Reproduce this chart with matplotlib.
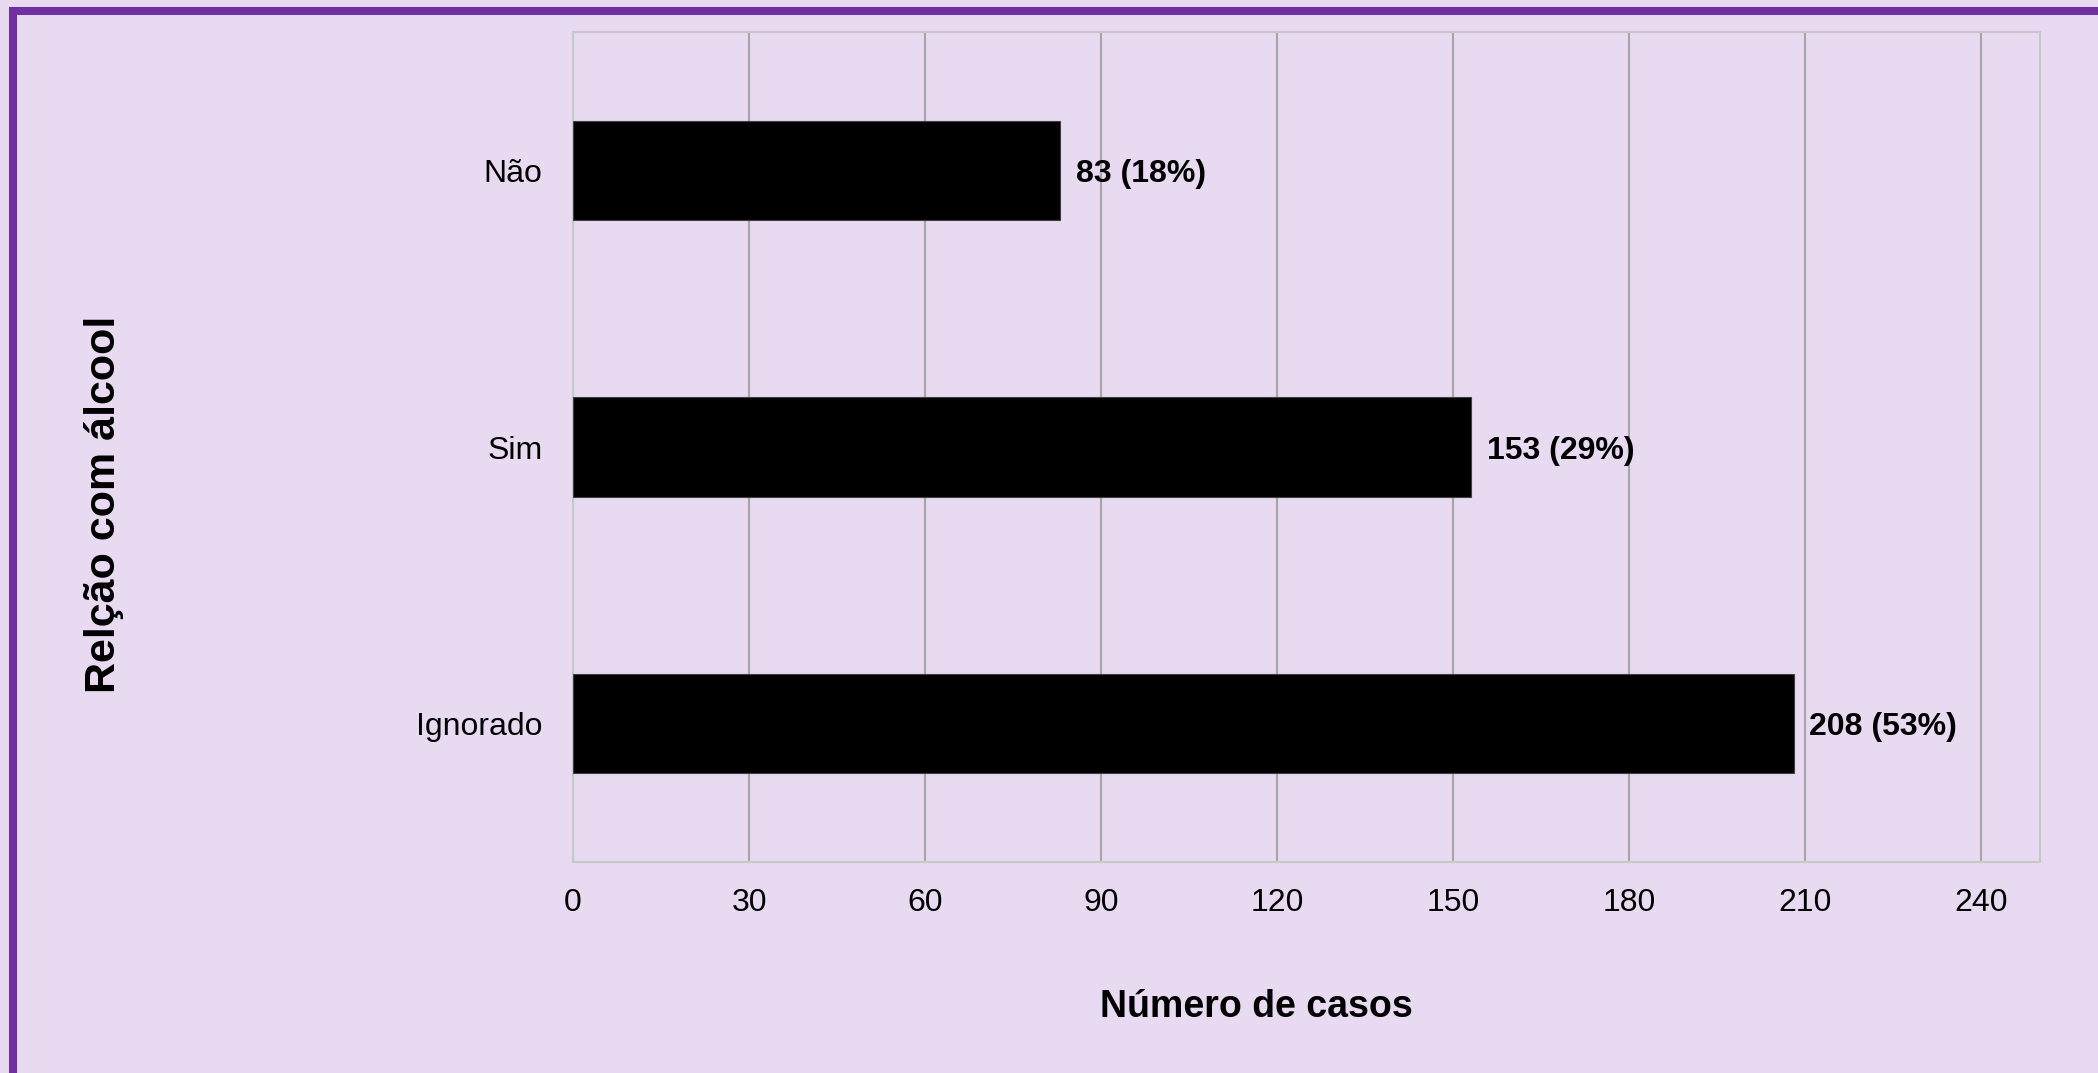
import matplotlib.pyplot as plt
from matplotlib.patches import Rectangle

categorias = ["Ignorado", "Sim", "Não"]
casos = [208, 153, 83]
percentuais = ["53%", "29%", "18%"]
ticks_x = [0, 30, 60, 90, 120, 150, 180, 210, 240]

plt.rcParams['font.family'] = ['Liberation Sans', 'DejaVu Sans']

W, H = 2098, 1073
fundo = '#E7DAF1'
fig = plt.figure(figsize=(W / 100, H / 100), dpi=100, facecolor=fundo)
ax = fig.add_axes([573 / W, 1 - 862 / H, (2040 - 573) / W, (862 - 32) / H])
ax.set_facecolor(fundo)

pos = range(len(categorias))
ax.barh(pos, casos, height=0.36, color='black', edgecolor='#404040', linewidth=0.8, zorder=3)

for y, v, p in zip(pos, casos, percentuais):
    ax.text(v + 2.7, y, f"{v} ({p})", va='center_baseline', ha='left',
            fontsize=23, fontweight='bold', zorder=4)

ax.set_xlim(0, 250)
ax.set_ylim(-0.5, 2.5)
ax.set_xticks(ticks_x)
ax.set_yticks(list(pos))
ax.set_yticklabels(categorias)
ax.tick_params(axis='both', length=0, labelsize=23)
ax.tick_params(axis='y', pad=22)
ax.tick_params(axis='x', pad=19)
ax.grid(axis='x', color='#A6A6A6', linewidth=1.5, zorder=1)
for s in ax.spines.values():
    s.set_color('#C8C8C8')
    s.set_linewidth(1.5)

fig.text(1256 / W, 1 - 1007 / H, "Número de casos",
         ha='center', va='center', fontsize=27, fontweight='bold')
fig.text(104 / W, 1 - 504 / H, "Relção com álcool", rotation=90,
         ha='center', va='center', fontsize=31, fontweight='bold')

# moldura roxa
fig.add_artist(Rectangle((13 / W, -0.002), 1.1, 1 - 11 / H + 0.002,
                         transform=fig.transFigure, fill=False,
                         edgecolor='#7030A0', linewidth=5.8))

fig.savefig('out.png', dpi=100, facecolor=fundo)
